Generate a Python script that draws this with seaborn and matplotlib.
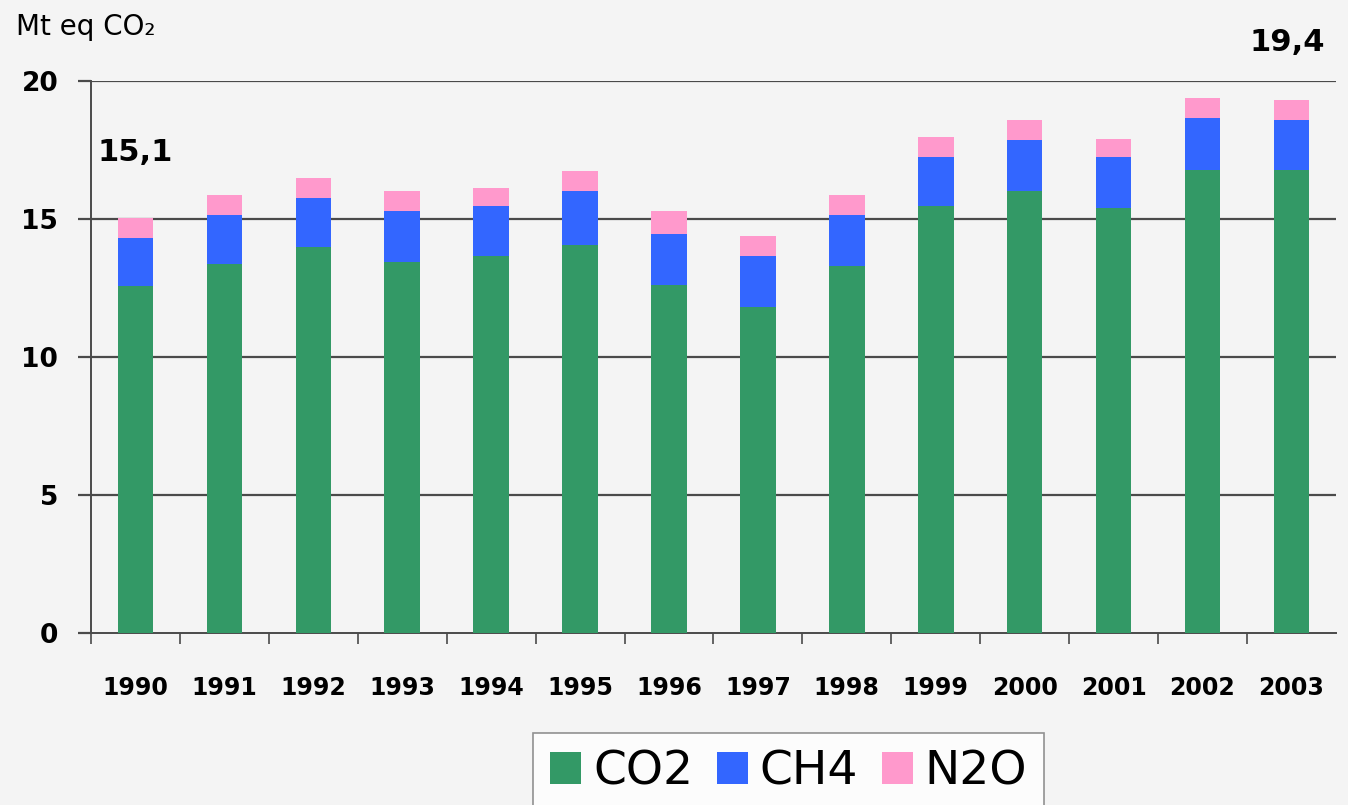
import matplotlib
matplotlib.use("Agg")
import matplotlib.pyplot as plt
import numpy as np
import pandas as pd
import seaborn as sns

# data (Mt eq CO2)
years = ["1990", "1991", "1992", "1993", "1994", "1995", "1996",
         "1997", "1998", "1999", "2000", "2001", "2002", "2003"]
co2 = [12.57, 13.38, 13.99, 13.45, 13.67, 14.06, 12.61,
       11.81, 13.31, 15.48, 16.01, 15.41, 16.79, 16.79]
ch4 = [1.74, 1.76, 1.77, 1.84, 1.80, 1.95, 1.85,
       1.86, 1.83, 1.77, 1.85, 1.84, 1.87, 1.80]
n2o = [0.73, 0.73, 0.73, 0.72, 0.65, 0.73, 0.83,
       0.71, 0.73, 0.72, 0.73, 0.65, 0.72, 0.72]
yticks = [0, 5, 10, 15, 20]
labels_txt = ["15,1", "19,4"]

df = pd.DataFrame({"Year": years, "CO2": co2, "CH4": ch4, "N2O": n2o})
bottom_ch4 = df["CO2"].values
bottom_n2o = df["CO2"].values + df["CH4"].values

bg = "#f4f4f4"
sns.set_style("white", {"axes.facecolor": bg, "figure.facecolor": bg,
                        "text.color": "black", "xtick.color": "black",
                        "ytick.color": "black"})
plt.rcParams["font.family"] = ["DejaVu Sans"]

fig = plt.figure(figsize=(13.48, 8.05), dpi=100)
ax = fig.add_axes([0.0675, 0.2137, 0.9235, 0.6857])

sns.barplot(data=df, x="Year", y="CO2", color="#339966", width=0.4,
            saturation=1, ax=ax, label="CO2", zorder=3, linewidth=0)
sns.barplot(data=df, x="Year", y="CH4", color="#3366ff", width=0.4,
            saturation=1, ax=ax, label="CH4", bottom=bottom_ch4, zorder=3,
            linewidth=0)
sns.barplot(data=df, x="Year", y="N2O", color="#ff99cc", width=0.4,
            saturation=1, ax=ax, label="N2O", bottom=bottom_n2o, zorder=3,
            linewidth=0)

ax.set_xlim(-0.5, len(years) - 0.5)
ax.set_ylim(0, 20)
ax.set_yticks(yticks)
ax.set_xlabel("")
ax.set_ylabel("")

# horizontal grid lines
for v in yticks[1:]:
    ax.axhline(v, color="#4a4a4a", lw=1.6, zorder=1)

for s in ["top", "right"]:
    ax.spines[s].set_visible(False)
for s in ["left", "bottom"]:
    ax.spines[s].set_color("#4a4a4a")
    ax.spines[s].set_linewidth(1.4)

# tick marks at category boundaries, labels at centres
ax.set_xticks(np.arange(-0.5, len(years) - 1, 1.0), minor=True)
ax.tick_params(axis="x", which="minor", bottom=True, length=8, width=1.2,
               color="#4a4a4a", direction="out")
ax.tick_params(axis="x", which="major", bottom=True, length=0, pad=31,
               labelcolor="black")
ax.tick_params(axis="y", left=True, length=9.5, width=1.6, color="#4a4a4a",
               pad=14, labelcolor="black")
for t in ax.get_xticklabels():
    t.set_fontsize(17)
    t.set_fontweight("bold")
for t in ax.get_yticklabels():
    t.set_fontsize(19)
    t.set_fontweight("bold")

ax.text(0, 17.4, labels_txt[0], ha="center", va="center", color="black",
        fontsize=22, fontweight="bold", clip_on=False)
ax.text(12.95, 21.4, labels_txt[1], ha="center", va="center", color="black",
        fontsize=22, fontweight="bold", clip_on=False)

fig.text(0.012, 0.967, "Mt eq CO\u2082", ha="left", va="center",
         fontsize=20, color="black")

leg = ax.legend(loc="upper center", bbox_to_anchor=(0.585, 0.089),
                bbox_transform=fig.transFigure, ncol=3, fontsize=34,
                frameon=True, fancybox=False, handlelength=0.66,
                handleheight=0.66, handletextpad=0.25, columnspacing=0.5,
                borderpad=0.35, borderaxespad=0)
leg.get_frame().set_edgecolor("#777777")
leg.get_frame().set_facecolor("white")
leg.get_frame().set_linewidth(1.2)
for t in leg.get_texts():
    t.set_color("black")

fig.savefig("out.png", dpi=100, facecolor=bg)
